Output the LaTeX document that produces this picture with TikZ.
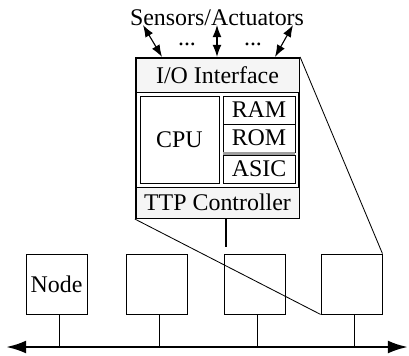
\documentclass[tikz,border=0pt]{standalone}
\usepackage{fontspec}
\setmainfont{Liberation Serif}
\usepackage{tikz}
\usetikzlibrary{arrows.meta, positioning}

\begin{document}
\begin{tikzpicture}[>=latex, x=0.025cm, y=-0.025cm,
    font=\fontsize{17}{20}\selectfont,
    hop/.style={draw, line width=0.6pt, inner sep=0pt},
    dai/.style={hop, fill=gray!8},
    nut/.style={hop, minimum width=1.525cm, minimum height=1.5cm}]
    \useasboundingbox (0,0) rectangle (409,356);
    % Khung bộ điều khiển
    \node[draw, line width=1.5pt, minimum width=4.075cm, minimum height=4cm] (ctrl) at (217.5,138) {};
    \node[dai, minimum width=4.075cm, minimum height=0.85cm] (io) at (217.5,75) {I/O Interface};
    \node[dai, minimum width=4.075cm, minimum height=0.775cm] (ttp) at (217.5,202.5) {TTP Controller};
    \node[hop, minimum width=1.975cm, minimum height=2.175cm] (cpu) at (179.5,139.5) {CPU};
    \node[hop, minimum width=1.8cm, minimum height=0.7cm] (ram) at (259,110) {RAM};
    \node[hop, minimum width=1.8cm, minimum height=0.7cm] (rom) at (259,138) {ROM};
    \node[hop, minimum width=1.8cm, minimum height=0.7cm] (asic) at (259,169) {ASIC};
    \fill[gray!75] (rom.south west) rectangle (asic.north east);
    
    % Cảm biến
    \node[inner sep=0pt, anchor=base] (sens) at (217,25) {Sensors/Actuators};
    \node[inner sep=0pt, anchor=base] (dot1) at (187,45) {...};
    \node[inner sep=0pt, anchor=base] (dot2) at (253,45) {...};
    \coordinate (s1) at (143,25);
    \coordinate (s2) at (217,25);
    \coordinate (s3) at (293,25);
    \draw[{Latex[length=3mm,width=2.2mm]}-{Latex[length=3mm,width=2.2mm]}, line width=0.8pt]
        (ctrl.north -| 162,0) -- (s1);
    \draw[{Latex[length=3mm,width=2.2mm]}-{Latex[length=3mm,width=2.2mm]}, line width=0.8pt]
        (ctrl.north -| s2) -- (s2);
    \draw[{Latex[length=3mm,width=2.2mm]}-{Latex[length=3mm,width=2.2mm]}, line width=0.8pt]
        (ctrl.north -| 275,0) -- (s3);
    
    % Các nút
    \node[nut] (n1) at (56.5,284) {Node};
    \node[nut] (n2) at (156.5,284) {};
    \node[nut] (n3) at (254.5,284) {};
    \node[nut] (n4) at (351.5,284) {};
    \coordinate (stub) at (226,247);
    \draw[line width=1.8pt] (ttp.south -| stub) -- (stub);
    \draw[line width=0.6pt] (ctrl.south west) -- (n4.south west);
    \draw[line width=0.6pt] (ctrl.north east) -- (n4.north east);
    
    % Vẽ bus
    \coordinate (busL) at (6,347);
    \coordinate (busR) at (408,347);
    \draw[{Latex[length=5mm,width=3.2mm]}-{Latex[length=5mm,width=3.2mm]}, line width=1.8pt] (busL) -- (busR);
    \foreach \n in {n1,n2,n3,n4}
        \draw[line width=0.6pt] ([xshift=0.08cm]\n.south) -- ([xshift=0.08cm]\n.south |- busL);
\end{tikzpicture}
\end{document}
